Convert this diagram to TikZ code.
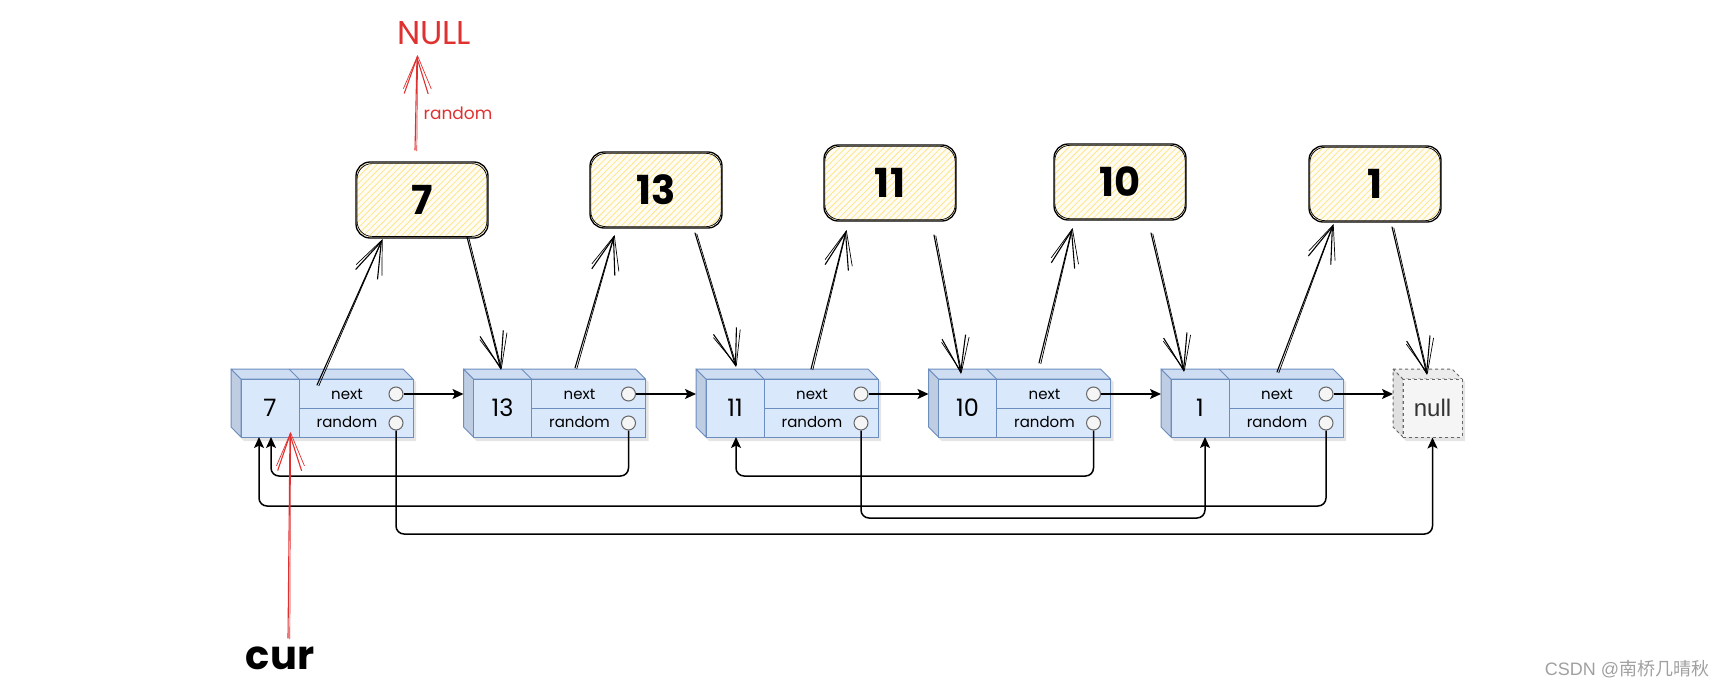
\documentclass[tikz,border=0pt]{standalone}
\usepackage{fontspec}
\setmainfont{Poppins}
\newfontfamily\arialfam{Liberation Sans}
\newfontfamily\cjkfam{Noto Sans CJK SC}
\usetikzlibrary{arrows.meta,patterns.meta}
\definecolor{cubefront}{HTML}{DAE8FC}
\definecolor{cubetopc}{HTML}{CFDDF2}
\definecolor{cubesidec}{HTML}{BFCDE3}
\definecolor{cubeedge}{HTML}{6C8EBF}
\definecolor{nullfront}{HTML}{F5F5F5}
\definecolor{nulltop}{HTML}{ECECEC}
\definecolor{nullside}{HTML}{E0E0E0}
\definecolor{grayedge}{HTML}{666666}
\definecolor{sketchred}{HTML}{E03131}
\definecolor{hatch}{HTML}{FFE48A}
\definecolor{boxbg}{HTML}{FFFDF3}
\definecolor{wm}{HTML}{A0A0A0}
\tikzset{
  cubeshadow/.style={fill=black, fill opacity=0.10},
  cubeside/.style={fill=cubesidec, draw=cubeedge, line width=1pt, line join=round},
  cubetop/.style={fill=cubetopc, draw=cubeedge, line width=1pt, line join=round},
  cubeline/.style={draw=cubeedge, line width=1pt},
  valcell/.style={draw=cubeedge, fill=cubefront, line width=1pt, minimum width=58pt, minimum height=58pt, inner sep=0pt, font=\fontsize{24}{24}\selectfont},
  fldcell/.style={draw=cubeedge, fill=cubefront, line width=1pt, minimum width=114pt, minimum height=29pt, inner sep=0pt},
  fldtext/.style={inner sep=0pt, font=\fontsize{15}{15}\selectfont},
  ptr/.style={circle, draw=grayedge, fill=nullfront, line width=1pt, minimum size=14pt, inner sep=0pt},
  conn/.style={line width=1.5pt, -{Stealth[length=11pt,width=10pt,inset=2.5pt]}, rounded corners=8pt},
  ybox/.style={draw=black, line width=1.3pt, rounded corners=14pt, minimum width=132pt, minimum height=76pt,
     preaction={fill=boxbg}, pattern={Lines[angle=45,distance=4.5pt,line width=0.8pt]}, pattern color=hatch,
     font=\fontsize{40}{40}\selectfont\bfseries},
  yedge/.style={draw=black, line width=0.7pt, rounded corners=15pt},
  skl/.style={line width=1.1pt, line cap=round, line join=round},
  skl2/.style={line width=0.7pt, line cap=round, line join=round},
}
\newcommand\cubenode[3]{%
  \fill[cubeshadow] ({#2-7},372) -- ({#2+165},372) -- ({#2+175},382) -- ({#2+175},441) -- ({#2+3},441) -- ({#2-7},431) -- cycle;
  \filldraw[cubeside] ({#2-10},369) -- (#2,379) -- (#2,437) -- ({#2-10},427) -- cycle;
  \filldraw[cubetop] ({#2-10},369) -- ({#2+162},369) -- ({#2+172},379) -- (#2,379) -- cycle;
  \draw[cubeline] ({#2+48},369) -- ({#2+58},379);
  \node[valcell] (#1v) at ({#2+29},408) {#3};
  \node[fldcell] (#1n) at ({#2+115},393.5) {};
  \node[fldcell] (#1r) at ({#2+115},422.5) {};
  \node[fldtext] (#1nt) at ({#2+106},394) {next};
  \node[fldtext] (#1rt) at ({#2+106},422) {random};
  \node[ptr] (#1nc) at ({#2+155},394) {};
  \node[ptr] (#1rc) at ({#2+155},423) {};
  \coordinate (#1in) at ({#2-10},394);
}
\newcommand\skarrow[3][black]{%
  \draw[skl,#1,-{Straight Barb[length=36pt,width=24pt]}] (#2) -- (#3);
  \draw[skl2,#1,-{Straight Barb[length=33pt,width=28pt]}] ([shift={(1.8,0.9)}]#2) -- ([shift={(0.6,-1.0)}]#3);
}
\newcommand\ybx[3]{%
  \node[ybox] (#1) at (#2) {#3};
  \draw[yedge] ([shift={(1.5,-2)}]#1.south west) rectangle ([shift={(-1.5,2)}]#1.north east);
}
\begin{document}
\begin{tikzpicture}[x=1pt,y=-1pt]
\useasboundingbox (0,0) rectangle (1727,688);

% ---- linked list cubes ----
\cubenode{A}{241}{7}
\cubenode{B}{473.5}{13}
\cubenode{C}{706}{11}
\cubenode{D}{938.5}{10}
\cubenode{E}{1171}{1}

% null cube
\fill[cubeshadow] (1396,372) -- (1455,372) -- (1465,382) -- (1465,441) -- (1406,441) -- (1396,431) -- cycle;
\filldraw[fill=nullside, draw=grayedge, dashed, line width=1pt] (1393,369) -- (1403,379) -- (1403,437) -- (1393,427) -- cycle;
\filldraw[fill=nulltop, draw=grayedge, dashed, line width=1pt] (1393,369) -- (1452,369) -- (1462,379) -- (1403,379) -- cycle;
\node[draw=grayedge, dashed, fill=nullfront, line width=1pt, minimum width=59pt, minimum height=58pt, inner sep=0pt,
      font=\arialfam\fontsize{24}{24}\selectfont, text=black!80] (N) at (1432.5,408) {null};
\coordinate (Nin) at (1393,394);

% ---- next pointers ----
\draw[conn] (Anc.east) -- (Bin);
\draw[conn] (Bnc.east) -- (Cin);
\draw[conn] (Cnc.east) -- (Din);
\draw[conn] (Dnc.east) -- (Ein);
\draw[conn] (Enc.east) -- (Nin);

% ---- random pointers ----
\coordinate (Aa) at (271,437);
\coordinate (Ab) at (259,437);
\coordinate (Ca) at (736,437);
\coordinate (Ea) at (1205,437);
\draw[conn] (Brc.south) -- (Brc.south |- 0,476) -- (Aa |- 0,476) -- (Aa);
\draw[conn] (Drc.south) -- (Drc.south |- 0,476) -- (Ca |- 0,476) -- (Ca);
\draw[conn] (Erc.south) -- (Erc.south |- 0,506) -- (Ab |- 0,506) -- (Ab);
\draw[conn] (Crc.south) -- (Crc.south |- 0,518) -- (Ea |- 0,518) -- (Ea);
\draw[conn] (Arc.south) -- (Arc.south |- 0,534) -- (N.south |- 0,534) -- (N.south);

% ---- sketch boxes ----
\ybx{y7}{422,200}{7}
\ybx{y13}{656,190}{13}
\ybx{y11}{890,183}{11}
\ybx{y10}{1120,182}{10}
\ybx{y1}{1375,184}{1}

% ---- sketch arrows ----
\coordinate (s1a) at (317,385);  \coordinate (s1b) at (382,240);
\coordinate (s2a) at (467,237);  \coordinate (s2b) at (501,370);
\coordinate (s3a) at (575,368);  \coordinate (s3b) at (614,236);
\coordinate (s4a) at (695,233);  \coordinate (s4b) at (736,367);
\coordinate (s5a) at (811,369);  \coordinate (s5b) at (846,231);
\coordinate (s6a) at (934,235);  \coordinate (s6b) at (961,374);
\coordinate (s7a) at (1039,363); \coordinate (s7b) at (1072,229);
\coordinate (s8a) at (1151,233); \coordinate (s8b) at (1184,372);
\coordinate (s9a) at (1277,372); \coordinate (s9b) at (1333,225);
\coordinate (s10a) at (1392,227); \coordinate (s10b) at (1427,375);
\skarrow{s1a}{s1b}
\skarrow{s2a}{s2b}
\skarrow{s3a}{s3b}
\skarrow{s4a}{s4b}
\skarrow{s5a}{s5b}
\skarrow{s6a}{s6b}
\skarrow{s7a}{s7b}
\skarrow{s8a}{s8b}
\skarrow{s9a}{s9b}
\skarrow{s10a}{s10b}

% ---- red annotations ----
\node[text=sketchred, font=\fontsize{33}{33}\selectfont, inner sep=0pt] (nulltxt) at (434,33) {NULL};
\coordinate (r1a) at (415,150); \coordinate (r1b) at (417,56);
\skarrow[sketchred]{r1a}{r1b}
\node[text=sketchred, font=\fontsize{17}{17}\selectfont, inner sep=0pt] (rlab) at (458,113) {random};

\node[font=\fontsize{40}{40}\selectfont\bfseries, inner sep=0pt] (cur) at (280,658) {cur};
\coordinate (c1a) at (288,638); \coordinate (c1b) at (290,433);
\skarrow[sketchred]{c1a}{c1b}

% ---- watermark ----
\node[text=wm, font=\arialfam\fontsize{18}{18}\selectfont, inner sep=0pt] (wmark) at (1627,669) {CSDN @{\cjkfam 南桥几晴秋}};
\end{tikzpicture}
\end{document}
